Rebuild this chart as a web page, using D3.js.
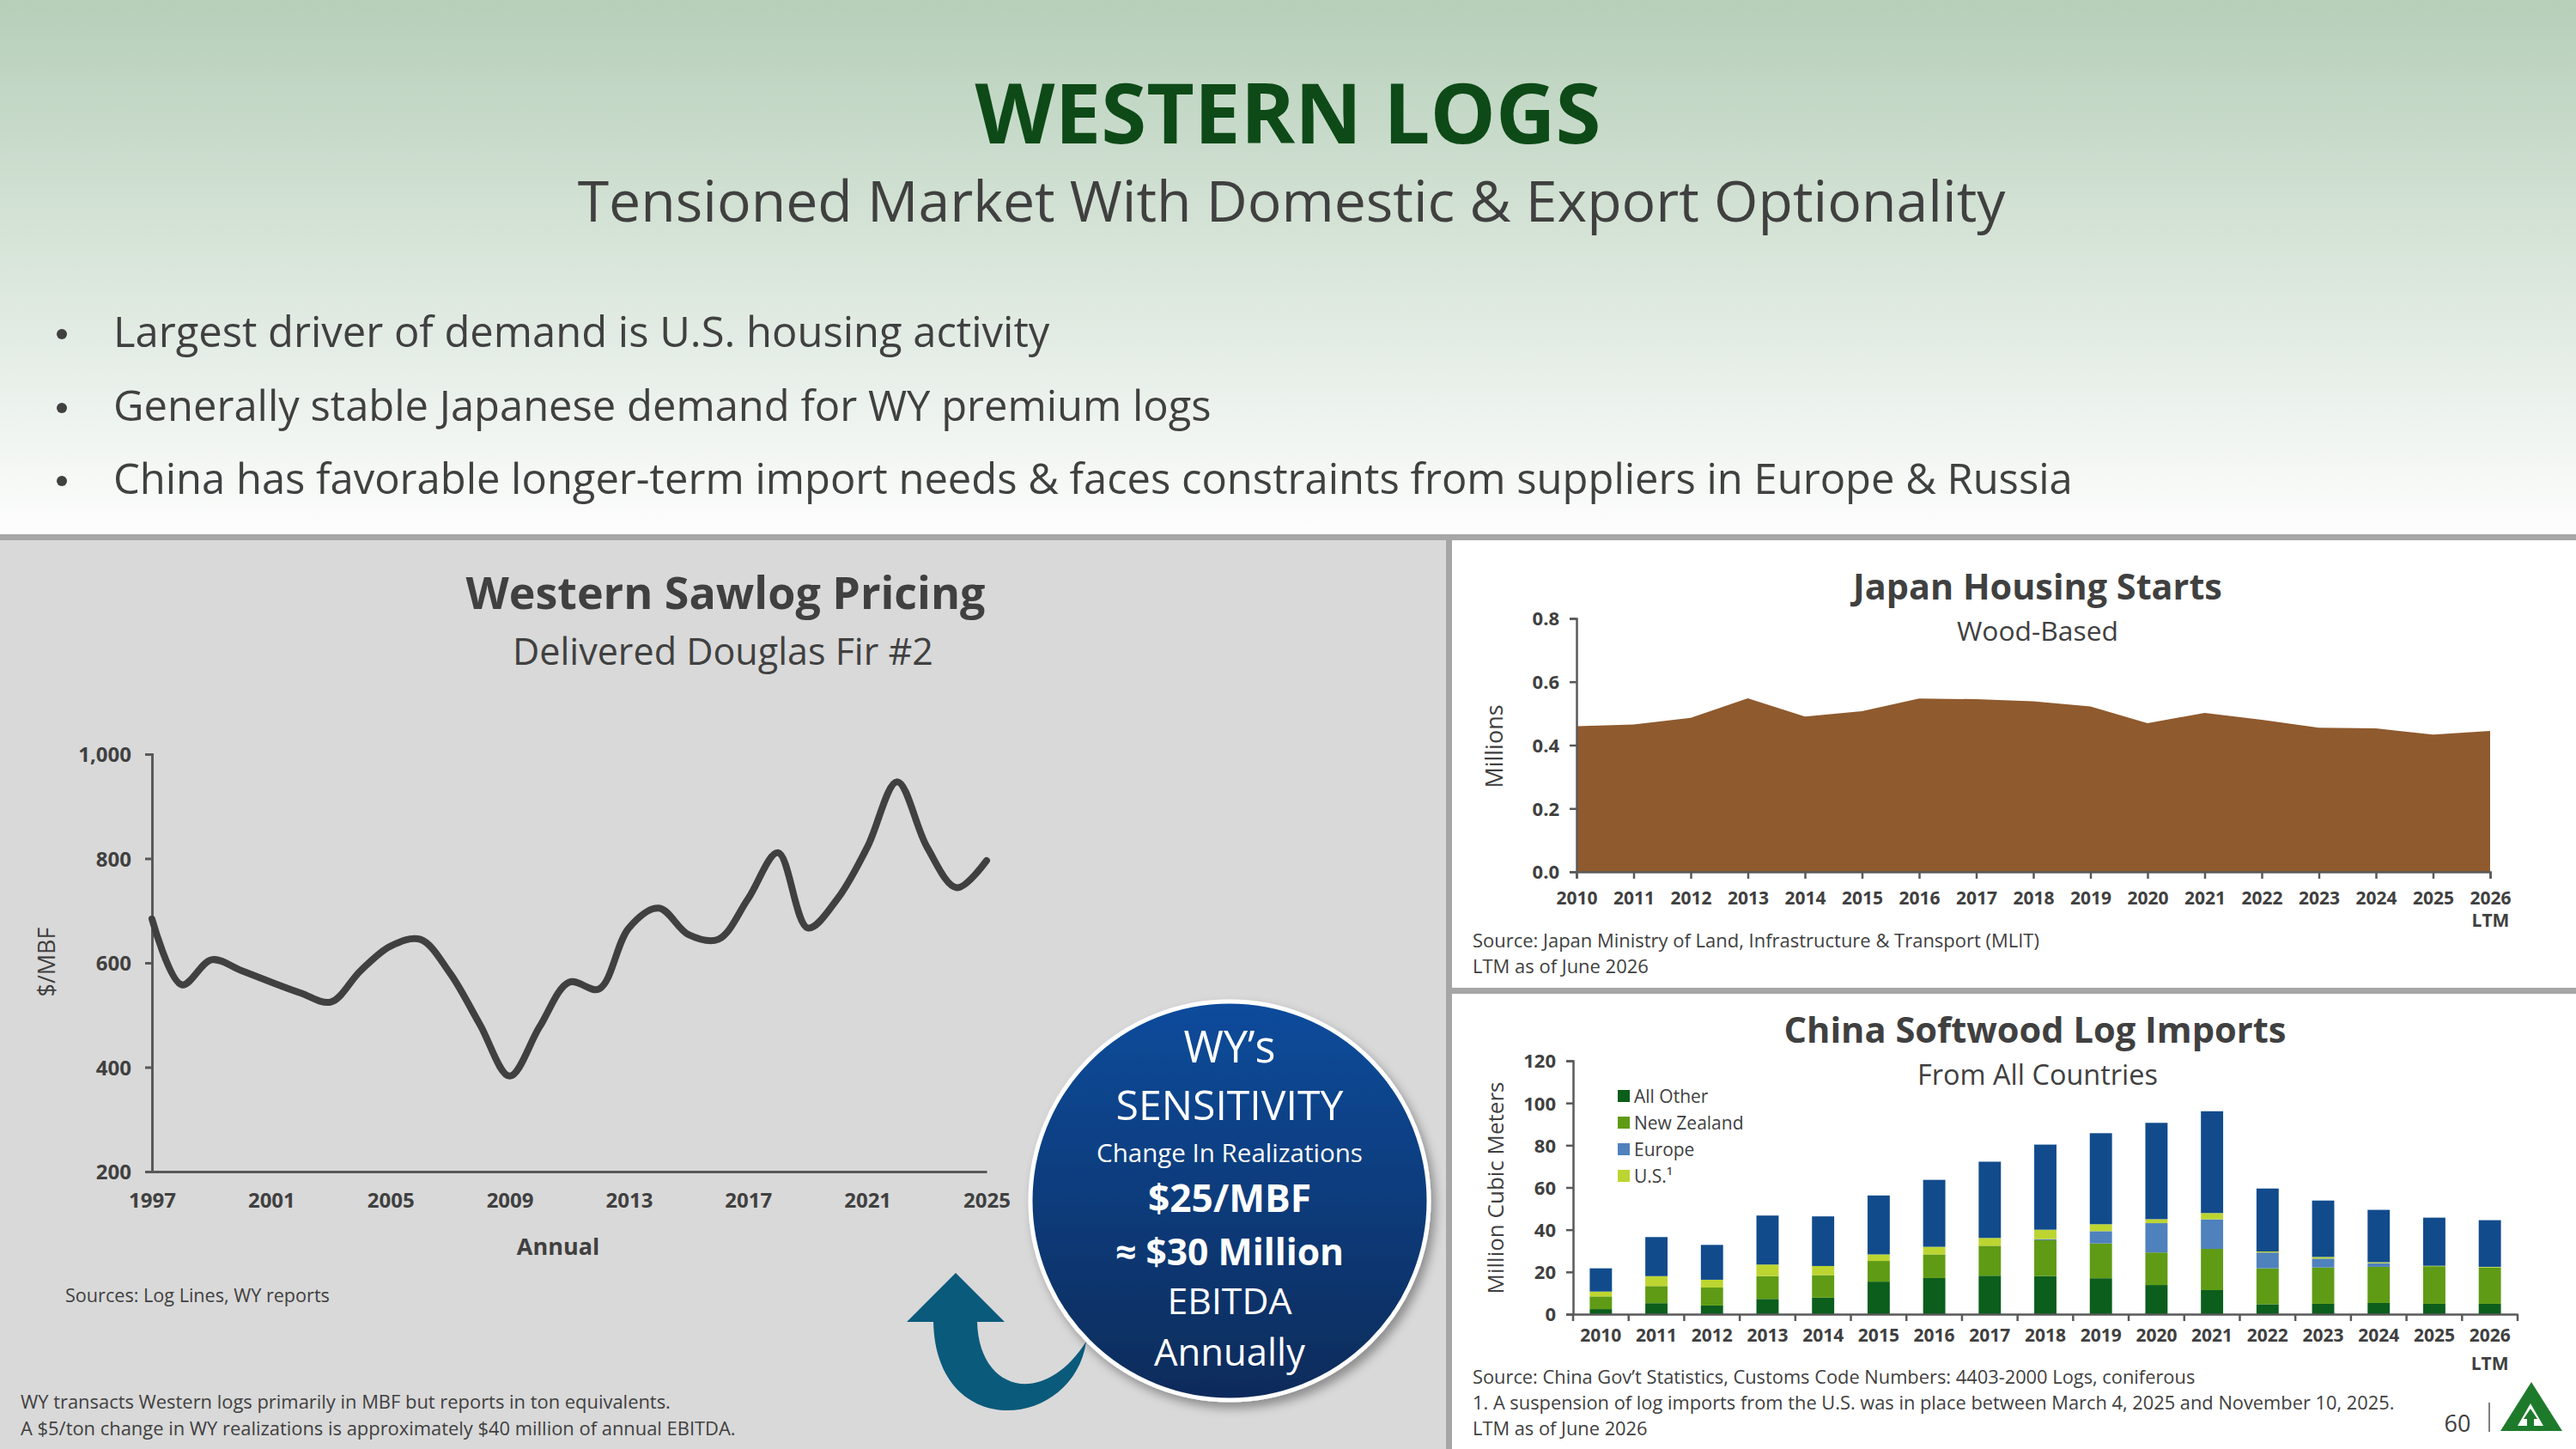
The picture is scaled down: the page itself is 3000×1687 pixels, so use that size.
<!DOCTYPE html>
<html>
<head>
<meta charset="utf-8">
<script src="https://cdn.jsdelivr.net/npm/d3@7"></script>
<style>
  body { margin: 0; background: #ffffff; }
  svg { display: block; font-family: "Open Sans", "Noto Sans", sans-serif; }
</style>
</head>
<body>
<script>
// ---- data ----
var bullets = [
  "Largest driver of demand is U.S. housing activity",
  "Generally stable Japanese demand for WY premium logs",
  "China has favorable longer-term import needs & faces constraints from suppliers in Europe & Russia"
];

// Western sawlog pricing, delivered Douglas fir #2 ($/MBF)
var sawYears = [1997, 1998, 1999, 2000, 2001, 2002, 2003, 2004, 2005, 2006, 2007, 2008, 2009, 2010, 2011,
                2012, 2013, 2014, 2015, 2016, 2017, 2018, 2019, 2020, 2021, 2022, 2023, 2024, 2025];
var sawPrice = [684, 558, 606, 585, 563, 542, 525, 585, 632, 645, 580, 482, 383, 477, 563,
                550, 667, 705, 654, 645, 723, 811, 667, 723, 822, 947, 822, 744, 796];
var sawXTicks = [1997, 2001, 2005, 2009, 2013, 2017, 2021, 2025];
var sawYTicks = [200, 400, 600, 800, 1000];

// Japan wood-based housing starts (millions)
var japanYears = ["2010", "2011", "2012", "2013", "2014", "2015", "2016", "2017", "2018",
                  "2019", "2020", "2021", "2022", "2023", "2024", "2025", "2026"];
var japanStarts = [0.460, 0.465, 0.486, 0.548, 0.490, 0.507, 0.547, 0.545, 0.538,
                   0.522, 0.469, 0.502, 0.480, 0.455, 0.453, 0.433, 0.445];
var japanYTicks = [0, 0.2, 0.4, 0.6, 0.8];

// China softwood log imports (million cubic meters)
var chinaYears = japanYears;
var chinaAllOther = [2.4, 5.2, 4.1, 7.2, 7.8, 15.4, 17.1, 18.2, 18.0, 17.0, 13.8, 11.4, 4.7, 4.9, 5.3, 4.9, 4.9];
var chinaNZ       = [6.0, 8.1, 8.5, 10.8, 10.7, 9.8, 11.2, 14.2, 17.0, 16.5, 15.4, 19.5, 17.0, 17.2, 17.1, 17.8, 17.2];
var chinaEurope   = [0.0, 0.0, 0.0, 0.0, 0.0, 0.0, 0.0, 0.0, 0.5, 5.8, 13.9, 14.0, 7.5, 4.2, 1.7, 0.0, 0.0];
var chinaUS       = [2.3, 4.7, 3.7, 5.5, 4.3, 3.1, 3.6, 3.7, 4.5, 3.3, 1.9, 3.0, 0.5, 0.8, 0.5, 0.2, 0.3];
var chinaRest     = [11.0, 18.5, 16.5, 23.2, 23.5, 27.9, 31.7, 36.1, 40.3, 43.1, 45.6, 48.2, 29.8, 26.7, 24.8, 22.8, 22.1];
var chinaYTicks = [0, 20, 40, 60, 80, 100, 120];
var chinaLegend = ["All Other", "New Zealand", "Europe", "U.S.\u00b9"];

var circleLines = ["WY\u2019s", "SENSITIVITY", "Change In Realizations", "$25/MBF", "\u2248 $30 Million", "EBITDA", "Annually"];

// ---- page ----
var W = 3000, H = 1687;
var ink = "#404040", axisInk = "#595959";

var svg = d3.select("body").append("svg")
  .attr("width", W).attr("height", H)
  .attr("viewBox", "0 0 " + W + " " + H);

var defs = svg.append("defs");
var hg = defs.append("linearGradient").attr("id", "headGrad")
  .attr("x1", 0).attr("y1", 0).attr("x2", 0).attr("y2", 1);
hg.append("stop").attr("offset", "0%").attr("stop-color", "#b6cfb9");
hg.append("stop").attr("offset", "100%").attr("stop-color", "#fdfdfd");

var cg = defs.append("linearGradient").attr("id", "circGrad")
  .attr("x1", 0).attr("y1", 0).attr("x2", 0).attr("y2", 1);
cg.append("stop").attr("offset", "0%").attr("stop-color", "#0b4c9c");
cg.append("stop").attr("offset", "100%").attr("stop-color", "#0b2b5a");

var sh = defs.append("filter").attr("id", "shadow")
  .attr("x", "-20%").attr("y", "-20%").attr("width", "140%").attr("height", "140%");
sh.append("feDropShadow").attr("dx", 5).attr("dy", 7).attr("stdDeviation", 6)
  .attr("flood-color", "#000").attr("flood-opacity", 0.35);

// make a text node fit a target width
var fit = function(sel, w) {
  var len = sel.node().getComputedTextLength();
  var fs = parseFloat(sel.attr("font-size"));
  sel.attr("font-size", (fs * w / len).toFixed(2));
  return sel;
};

var addText = function(txt, x, y, size, weight, fill, anchor) {
  return svg.append("text")
    .attr("x", x).attr("y", y)
    .attr("font-size", size)
    .attr("font-weight", weight || 400)
    .attr("fill", fill || ink)
    .attr("text-anchor", anchor || "start")
    .text(txt);
};

// backgrounds
svg.append("rect").attr("x", 0).attr("y", 0).attr("width", W).attr("height", 622).attr("fill", "url(#headGrad)");
svg.append("rect").attr("x", 0).attr("y", 622).attr("width", W).attr("height", 7).attr("fill", "#a6a6a6");
svg.append("rect").attr("x", 0).attr("y", 629).attr("width", 1684).attr("height", H - 629).attr("fill", "#d9d9d9");
svg.append("rect").attr("x", 1684).attr("y", 629).attr("width", 7).attr("height", H - 629).attr("fill", "#a6a6a6");
svg.append("rect").attr("x", 1691).attr("y", 1150).attr("width", W - 1691).attr("height", 7).attr("fill", "#a6a6a6");

// header
fit(addText("WESTERN LOGS", 1500, 167, 100, 700, "#0d4a17", "middle"), 729);
fit(addText("Tensioned Market With Domestic & Export Optionality", 1504, 258, 70, 400, ink, "middle"), 1663);

var bulletY = [404, 490, 575];
var b3 = fit(addText(bullets[2], 132, bulletY[2], 48, 400), 2282);
var bSize = b3.attr("font-size");
bullets.forEach(function(b, i) {
  if (i < 2) addText(b, 132, bulletY[i], bSize, 400);
  svg.append("circle").attr("cx", 72).attr("cy", bulletY[i] - 15).attr("r", 6).attr("fill", ink);
});

// ---- Western sawlog pricing ----
fit(addText("Western Sawlog Pricing", 845, 709, 54, 700, ink, "middle"), 605);
fit(addText("Delivered Douglas Fir #2", 842, 774, 40, 400, ink, "middle"), 490);

var sx = d3.scaleLinear().domain([1997, 2025]).range([177, 1149]);
var sy = d3.scaleLinear().domain([200, 1000]).range([1364, 878]);

var sXAxis = svg.append("g").attr("transform", "translate(0,1364)")
  .call(d3.axisBottom(sx).tickValues(sawXTicks).tickFormat(d3.format("d")).tickSize(0).tickPadding(25));
var sYAxis = svg.append("g").attr("transform", "translate(177,0)")
  .call(d3.axisLeft(sy).tickValues(sawYTicks).tickFormat(d3.format(",")).tickSize(8).tickPadding(16));
[sXAxis, sYAxis].forEach(function(g) {
  g.select(".domain").attr("stroke", axisInk).attr("stroke-width", 3);
  g.selectAll(".tick line").attr("stroke", axisInk).attr("stroke-width", 3);
  g.selectAll("text").attr("font-size", 24).attr("font-weight", 700).attr("fill", ink)
    .attr("font-family", "Open Sans");
});
sYAxis.selectAll("text").attr("dy", "0.36em");

var sawLine = d3.line()
  .x(function(d, i) { return sx(sawYears[i]); })
  .y(function(d) { return sy(d); })
  .curve(d3.curveCatmullRom.alpha(0.5));
svg.append("path").datum(sawPrice)
  .attr("d", sawLine)
  .attr("fill", "none").attr("stroke", "#404040").attr("stroke-width", 8)
  .attr("stroke-linejoin", "round").attr("stroke-linecap", "round");

addText("$/MBF", 0, 0, 27, 400, ink, "middle").attr("transform", "translate(64,1120) rotate(-90)");
addText("Annual", 650, 1461, 27, 700, ink, "middle");
fit(addText("Sources: Log Lines, WY reports", 76, 1516, 24, 400), 308);
var n1 = addText("WY transacts Western logs primarily in MBF but reports in ton equivalents.", 24, 1640, 23, 400);
var n2 = fit(addText("A $5/ton change in WY realizations is approximately $40 million of annual EBITDA.", 24, 1671, 23, 400), 833);
n1.attr("font-size", n2.attr("font-size"));

// curved arrow
svg.append("path")
  .attr("d", "M1056,1539 L1113,1482 L1170,1539 L1138,1539 C1140,1620 1215,1640 1265,1562 " +
             "C1250,1665 1090,1680 1087,1539 Z")
  .attr("fill", "#0a5a7b");

// sensitivity circle
svg.append("circle").attr("cx", 1432).attr("cy", 1398).attr("r", 232)
  .attr("fill", "url(#circGrad)").attr("stroke", "#ffffff").attr("stroke-width", 5)
  .attr("filter", "url(#shadow)");
var cY = [1237, 1304, 1353, 1411, 1473, 1530, 1590];
var cW = [107, 265, 310, 190, 266, 145, 176];
var cB = [400, 400, 400, 700, 700, 400, 400];
circleLines.forEach(function(t, i) {
  fit(addText(t, 1432, cY[i], 44, cB[i], "#ffffff", "middle"), cW[i]);
});

// ---- Japan housing starts ----
fit(addText("Japan Housing Starts", 2373, 698, 40, 700, ink, "middle"), 430);
fit(addText("Wood-Based", 2373, 746, 32, 400, ink, "middle"), 188);

var jx = d3.scalePoint().domain(japanYears).range([1836, 2900]);
var jy = d3.scaleLinear().domain([0, 0.8]).range([1015, 720]);

var jArea = d3.area()
  .x(function(d, i) { return jx(japanYears[i]); })
  .y0(jy(0))
  .y1(function(d) { return jy(d); });
svg.append("path").datum(japanStarts).attr("d", jArea).attr("fill", "#8f5a2e");

var jXAxis = svg.append("g").attr("transform", "translate(0,1015)")
  .call(d3.axisBottom(jx).tickSize(8).tickPadding(15));
var jYAxis = svg.append("g").attr("transform", "translate(1836,0)")
  .call(d3.axisLeft(jy).tickValues(japanYTicks).tickFormat(d3.format(".1f")).tickSize(8).tickPadding(12));

// ---- China softwood log imports ----
fit(addText("China Softwood Log Imports", 2370, 1214, 40, 700, ink, "middle"), 585);
fit(addText("From All Countries", 2373, 1263, 32, 400, ink, "middle"), 280);

var cx = d3.scaleBand().domain(chinaYears).range([1832, 2932]).paddingInner(0.6).paddingOuter(0.3);
var cy = d3.scaleLinear().domain([0, 120]).range([1530, 1235]);

var seriesKeys = ["allOther", "nz", "europe", "us", "rest"];
var seriesColors = { allOther: "#0b5e1c", nz: "#5f9b14", europe: "#4f81bd", us: "#bdd531", rest: "#114b8c" };
var chinaRows = chinaYears.map(function(y, i) {
  return { year: y, allOther: chinaAllOther[i], nz: chinaNZ[i], europe: chinaEurope[i], us: chinaUS[i], rest: chinaRest[i] };
});
var stacked = d3.stack().keys(seriesKeys)(chinaRows);

svg.append("g").selectAll("g").data(stacked).enter().append("g")
  .attr("fill", function(s) { return seriesColors[s.key]; })
  .selectAll("rect").data(function(s) { return s; }).enter().append("rect")
  .attr("x", function(d) { return cx(d.data.year); })
  .attr("width", cx.bandwidth())
  .attr("y", function(d) { return cy(d[1]); })
  .attr("height", function(d) { return cy(d[0]) - cy(d[1]); });

var cXAxis = svg.append("g").attr("transform", "translate(0,1530)")
  .call(d3.axisBottom(cx).tickSize(0).tickPadding(17));
// category boundary ticks
svg.append("g").selectAll("line").data(d3.range(chinaYears.length + 1)).enter().append("line")
  .attr("x1", function(i) { return 1832 + i * cx.step(); })
  .attr("x2", function(i) { return 1832 + i * cx.step(); })
  .attr("y1", 1530).attr("y2", 1538)
  .attr("stroke", axisInk).attr("stroke-width", 2.5);
var cYAxis = svg.append("g").attr("transform", "translate(1832,0)")
  .call(d3.axisLeft(cy).tickValues(chinaYTicks).tickSize(8).tickPadding(12));

[jXAxis, jYAxis, cXAxis, cYAxis].forEach(function(g) {
  g.select(".domain").attr("stroke", axisInk).attr("stroke-width", 2.5);
  g.selectAll(".tick line").attr("stroke", axisInk).attr("stroke-width", 2.5);
  g.selectAll("text").attr("font-size", 21).attr("font-weight", 700).attr("fill", ink)
    .attr("font-family", "Open Sans");
});
[jYAxis, cYAxis].forEach(function(g) { g.selectAll("text").attr("font-size", 22).attr("dy", "0.36em"); });

// LTM under the last category
[[jXAxis, 1071], [cXAxis, 1587]].forEach(function(p) {
  var last = p[0].selectAll(".tick").filter(function(d) { return d === "2026"; });
  last.append("text").attr("y", p[1] - (p[0] === jXAxis ? 1015 : 1530) + 8)
    .attr("text-anchor", "middle").attr("font-size", 21).attr("font-weight", 700)
    .attr("fill", ink).attr("font-family", "Open Sans").text("LTM");
});

addText("Millions", 0, 0, 27, 400, ink, "middle").attr("transform", "translate(1750,869) rotate(-90)");
addText("Million Cubic Meters", 0, 0, 26, 400, ink, "middle").attr("transform", "translate(1751,1383) rotate(-90)");

// legend
var leg = svg.append("g");
chinaLegend.forEach(function(name, i) {
  var y = 1284 + i * 31;
  leg.append("rect").attr("x", 1884).attr("y", y - 15).attr("width", 14).attr("height", 14)
    .attr("fill", seriesColors[seriesKeys[i]]);
  leg.append("text").attr("x", 1903).attr("y", y).attr("font-size", 21).attr("fill", ink).text(name);
});

// sources
var js1 = fit(addText("Source: Japan Ministry of Land, Infrastructure & Transport (MLIT)", 1715, 1103, 21, 400), 660);
addText("LTM as of June 2026", 1715, 1133, js1.attr("font-size"), 400);
var cs2 = fit(addText("1. A suspension of log imports from the U.S. was in place between March 4, 2025 and November 10, 2025.", 1715, 1641, 21, 400), 1074);
addText("Source: China Gov\u2019t Statistics, Customs Code Numbers: 4403-2000 Logs, coniferous", 1715, 1611, cs2.attr("font-size"), 400);
addText("LTM as of June 2026", 1715, 1671, cs2.attr("font-size"), 400);

// page number and logo
addText("60", 2862, 1667, 27, 400, ink, "middle");
svg.append("line").attr("x1", 2899).attr("x2", 2899).attr("y1", 1633).attr("y2", 1667)
  .attr("stroke", "#7f7f7f").attr("stroke-width", 2);
svg.append("path").attr("d", "M2948,1609 L2984,1666 L2912,1666 Z").attr("fill", "#1e7a2b");
svg.append("path")
  .attr("d", "M2947,1634 L2962,1660 L2951,1660 L2951,1652 L2955,1652 L2947,1640 L2939,1652 L2943,1652 L2943,1660 L2932,1660 Z")
  .attr("fill", "#ffffff");
</script>
</body>
</html>
